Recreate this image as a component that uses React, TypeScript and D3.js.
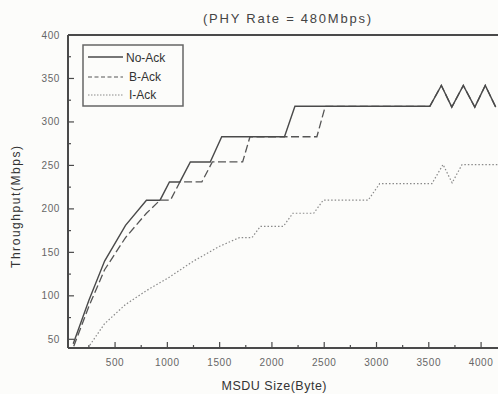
import * as d3 from 'd3';

const W = 498;
const H = 394;

// No-Ack series (MSDU size in bytes, throughput in Mbps)
const noAckSize = [100, 250, 400, 600, 800, 930, 1020, 1120, 1220, 1410, 1520, 2120, 2220, 3510, 3620, 3720, 3830, 3940, 4040, 4140];
const noAckTput = [45, 95, 140, 181, 210, 210, 231, 231, 254, 254, 283, 283, 318, 318, 342, 317, 342, 317, 342, 317];

// B-Ack series
const bAckSize = [105, 250, 400, 600, 800, 930, 1030, 1120, 1330, 1430, 1720, 1790, 2430, 2510, 3510, 3620, 3720, 3830, 3940, 4040, 4140];
const bAckTput = [42, 88, 130, 167, 195, 210, 210, 231, 231, 254, 254, 283, 283, 318, 318, 342, 317, 342, 317, 342, 317];

// I-Ack series
const iAckSize = [240, 400, 600, 800, 1000, 1250, 1500, 1690, 1810, 1890, 2110, 2200, 2400, 2490, 2920, 3030, 3530, 3636, 3723, 3818, 4200];
const iAckTput = [40, 68, 90, 106, 120, 140, 157, 167, 167, 180, 180, 195, 195, 210, 210, 229, 229, 251, 230, 251, 251];

const xMajor = [500, 1000, 1500, 2000, 2500, 3000, 3500, 4000];
const xMinor = [250, 750, 1250, 1750, 2250, 2750, 3250, 3750];
const yMajor = [50, 100, 150, 200, 250, 300, 350, 400];
const yMinor = [75, 125, 175, 225, 275, 325, 375];

const x = d3.scaleLinear().domain([50, 4200]).range([68, 502]);
const y = d3.scaleLinear().domain([40, 400]).range([348, 35]);

const toPts = (xs: number[], ys: number[]) => xs.map((v, i) => [v, ys[i]] as [number, number]);

const line = d3
  .line<[number, number]>()
  .x((d) => x(d[0]))
  .y((d) => y(d[1]));

const font = '"Liberation Sans", Arial, sans-serif';
const axisColor = '#4a4a4a';
const tickText = '#666';

export default function App() {
  const left = x(50);
  const bottom = y(40);
  const top = y(400);

  return (
    <svg
      width={W}
      height={H}
      style={{ position: 'fixed', left: 0, top: 0, display: 'block', background: '#fcfcfa' }}
      fontFamily={font}
    >
      <rect x={0} y={0} width={W} height={H} fill="#fcfcfa" />

      {/* title */}
      <text x={287} y={23} textAnchor="middle" fontSize={13} fill="#444" textLength={168} lengthAdjust="spacing">
        (PHY Rate = 480Mbps)
      </text>

      {/* series */}
      <path d={line(toPts(iAckSize, iAckTput)) ?? ''} fill="none" stroke="#8a8a8a" strokeWidth={1.2} strokeDasharray="1.5,2" />
      <path d={line(toPts(bAckSize, bAckTput)) ?? ''} fill="none" stroke="#555" strokeWidth={1.3} strokeDasharray="8,3.5" />
      <path d={line(toPts(noAckSize, noAckTput)) ?? ''} fill="none" stroke="#4a4a4a" strokeWidth={1.4} />

      {/* frame */}
      <line x1={left} x2={W + 10} y1={top} y2={top} stroke={axisColor} strokeWidth={2} />
      <line x1={left} x2={W + 10} y1={bottom} y2={bottom} stroke={axisColor} strokeWidth={2} />
      <line x1={left} x2={left} y1={top} y2={bottom} stroke={axisColor} strokeWidth={2} />

      {/* x ticks */}
      {xMajor.map((v) => (
        <g key={'xm' + v}>
          <line x1={x(v)} x2={x(v)} y1={bottom} y2={bottom - 6} stroke={axisColor} strokeWidth={1.2} />
          <text x={x(v)} y={366} textAnchor="middle" fontSize={10} fill={tickText} letterSpacing={0.6}>
            {v}
          </text>
        </g>
      ))}
      {xMinor.map((v) => (
        <line key={'xn' + v} x1={x(v)} x2={x(v)} y1={bottom} y2={bottom - 3} stroke={axisColor} strokeWidth={1.2} />
      ))}

      {/* y ticks */}
      {yMajor.map((v) => (
        <g key={'ym' + v}>
          <line x1={left} x2={left + 6} y1={y(v)} y2={y(v)} stroke={axisColor} strokeWidth={1.2} />
          <text x={60} y={y(v) + 3.5} textAnchor="end" fontSize={10} fill={tickText} letterSpacing={0.6}>
            {v}
          </text>
        </g>
      ))}
      {yMinor.map((v) => (
        <line key={'yn' + v} x1={left} x2={left + 3} y1={y(v)} y2={y(v)} stroke={axisColor} strokeWidth={1.2} />
      ))}

      {/* axis titles */}
      <text x={274} y={390} textAnchor="middle" fontSize={12.5} fill="#333" textLength={105} lengthAdjust="spacing">
        MSDU Size(Byte)
      </text>
      <text
        transform={`translate(20,${207}) rotate(-90)`}
        textAnchor="middle"
        fontSize={12}
        fill="#333"
        textLength={122}
        lengthAdjust="spacing"
      >
        Throughput(Mbps)
      </text>

      {/* legend */}
      <rect x={83} y={45} width={100} height={61} fill="#fcfcfa" stroke="#666" strokeWidth={1.5} />
      <line x1={88} x2={123} y1={57} y2={57} stroke="#4a4a4a" strokeWidth={1.4} />
      <line x1={88} x2={123} y1={77} y2={77} stroke="#555" strokeWidth={1.2} strokeDasharray="4,2.5" />
      <line x1={88} x2={123} y1={95} y2={95} stroke="#8a8a8a" strokeWidth={1.2} strokeDasharray="1.5,1.5" />
      <text x={126} y={62} fontSize={12} fill="#333">No-Ack</text>
      <text x={129} y={81} fontSize={12} fill="#333">B-Ack</text>
      <text x={129} y={99} fontSize={12} fill="#333">I-Ack</text>
    </svg>
  );
}
